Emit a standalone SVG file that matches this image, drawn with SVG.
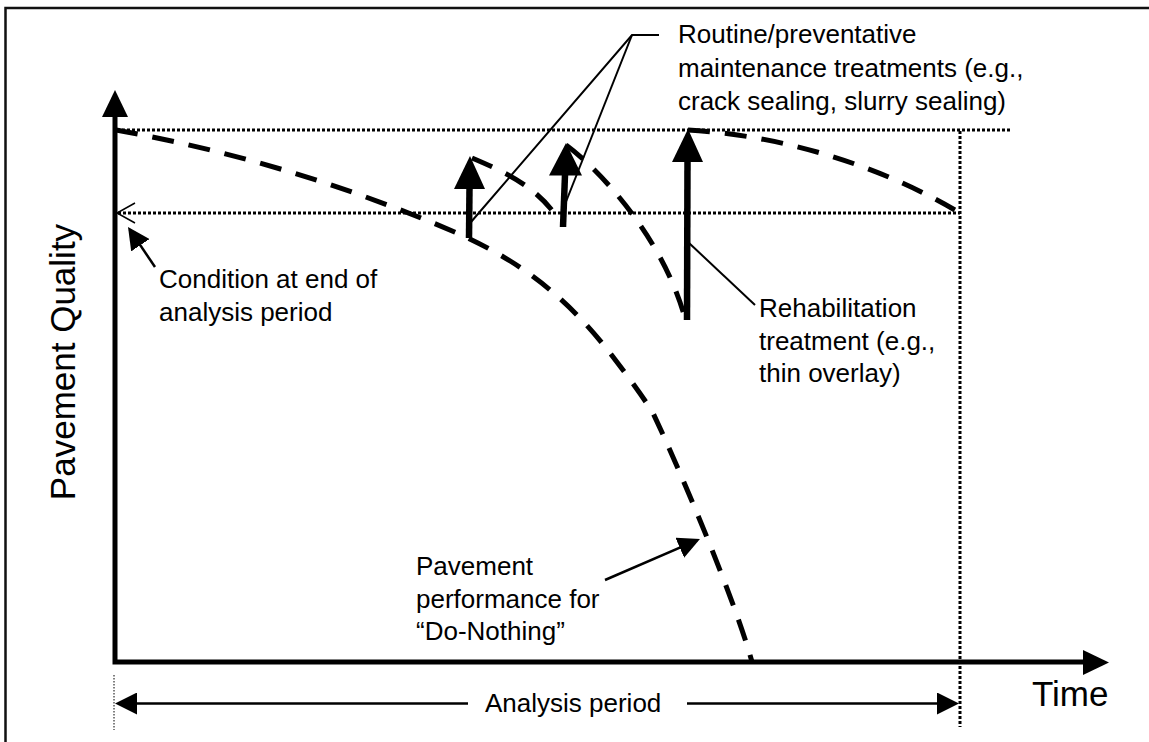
<svg xmlns="http://www.w3.org/2000/svg" width="1149" height="742" viewBox="0 0 1149 742">
<defs>
<style>
.frame{fill:none;stroke:#111;stroke-width:2.5}
.axis{fill:none;stroke:#000;stroke-width:5;stroke-linejoin:miter}
.dot{fill:none;stroke:#000;stroke-width:3;stroke-dasharray:3 2}
.fine{fill:none;stroke:#000;stroke-width:1;stroke-dasharray:1.5 1.5}
.curve{fill:none;stroke:#000;stroke-width:5;stroke-dasharray:22 15}
.shaft{stroke:#000;stroke-width:6.5}
.head{fill:#000}
.leader{fill:none;stroke:#000;stroke-width:2}
.thin{fill:none;stroke:#000;stroke-width:2.5}
.open{fill:none;stroke:#000;stroke-width:1.5}
.lbl{font-family:"Liberation Sans",Arial,sans-serif;font-size:26px;fill:#000}
.big{font-family:"Liberation Sans",Arial,sans-serif;font-size:35px;fill:#000}
</style>
<marker id="ah" viewBox="0 0 22 22" refX="19" refY="11" markerWidth="22" markerHeight="22" markerUnits="userSpaceOnUse" orient="auto">
<path d="M0,0 L22,11 L0,22 z" fill="#000"/>
</marker>
</defs>
<rect width="1149" height="742" fill="#fff"/>
<rect class="frame" x="5.5" y="8" width="1200" height="800"/>

<g id="axes">
<path class="axis" d="M115,116 L115,662 L1084,662"/>
<polygon class="head" points="115,90 102,117 128,117"/>
<polygon class="head" points="1109,662.5 1083,650 1083,675"/>
</g>

<g id="reference-lines">
<line class="dot" x1="117" y1="130" x2="1012" y2="130"/>
<line class="dot" x1="118" y1="213" x2="960" y2="213"/>
<line class="dot" x1="960" y1="131" x2="960" y2="727"/>
<line class="fine" x1="114" y1="675" x2="114" y2="730"/>
<polyline class="open" points="135,203 117,213 135,223"/>
</g>

<g id="curves">
<path id="do-nothing" class="curve" d="M116,130 C230,150.5 343,184 457,233 C508,256 559,287 610,353 C623,370 640,392 653,413 C680,470 735,600 752,662"/>
<path id="after-treatment-1" class="curve" d="M472,158 C505,172 540,188 560,222"/>
<path id="after-treatment-2" class="curve" d="M566,145 C600,170 665,240 686,322"/>
<path id="after-rehab" class="curve" d="M688,130 C780,135 880,165 960,213"/>
</g>

<g id="treatment-1">
<line class="shaft" x1="469" y1="238" x2="469.5" y2="188"/>
<polygon class="head" points="470,156 454,189 485,189"/>
</g>
<g id="treatment-2">
<line class="shaft" x1="563" y1="227" x2="565" y2="175"/>
<polygon class="head" points="566,143 549,175.5 582,175.5"/>
</g>
<g id="rehabilitation">
<line class="shaft" x1="687" y1="320" x2="687.5" y2="161"/>
<polygon class="head" points="688,129 672,162 703,162"/>
</g>

<g id="connectors">
<polyline class="leader" points="659,35 632,35 471,222"/>
<line class="leader" x1="632" y1="35" x2="565.5" y2="203"/>
<line class="leader" x1="689" y1="243" x2="755" y2="305"/>
<line class="thin" x1="155" y1="267" x2="129.7" y2="229.5" marker-end="url(#ah)"/>
<line class="thin" x1="605" y1="580" x2="697.2" y2="540.2" marker-end="url(#ah)"/>
<line class="thin" x1="468" y1="703.5" x2="118" y2="703.5" marker-end="url(#ah)"/>
<line class="thin" x1="687" y1="703.5" x2="956" y2="703.5" marker-end="url(#ah)"/>
</g>

<g id="label-routine">
<text class="lbl" x="678" y="43">Routine/preventative</text>
<text class="lbl" x="678" y="76.5">maintenance treatments (e.g.,</text>
<text class="lbl" x="678" y="110">crack sealing, slurry sealing)</text>
</g>
<g id="label-condition">
<text class="lbl" x="159" y="288">Condition at end of</text>
<text class="lbl" x="159" y="320.5">analysis period</text>
</g>
<g id="label-rehab">
<text class="lbl" x="759" y="317">Rehabilitation</text>
<text class="lbl" x="759" y="349.5">treatment (e.g.,</text>
<text class="lbl" x="759" y="382">thin overlay)</text>
</g>
<g id="label-do-nothing">
<text class="lbl" x="416" y="575">Pavement</text>
<text class="lbl" x="416" y="607.5">performance for</text>
<text class="lbl" x="416" y="640">“Do-Nothing”</text>
</g>
<g id="label-analysis">
<text class="lbl" x="485" y="712">Analysis period</text>
</g>
<g id="label-time">
<text class="big" x="1032" y="706">Time</text>
</g>
<g id="label-quality">
<text class="big" x="75" y="362" text-anchor="middle" transform="rotate(-90 75 362)">Pavement Quality</text>
</g>
</svg>
